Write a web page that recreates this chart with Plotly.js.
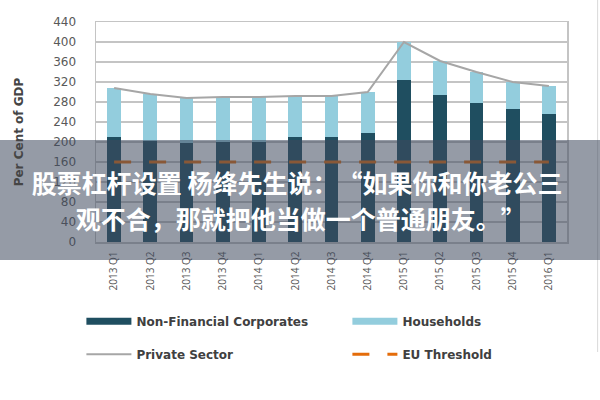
<!DOCTYPE html>
<html>
<head>
<meta charset="utf-8">
<script src="https://cdn.plot.ly/plotly-3.0.1.min.js"></script>
<style>
  html, body { margin: 0; padding: 0; background: #ffffff; }
  #chart { width: 600px; height: 400px; }
  #chart text { text-spacing-trim: space-all; }
</style>
</head>
<body>
<div id="chart"></div>
<script>
// ---- data ----
const quarters = ['2013 Q1','2013 Q2','2013 Q3','2013 Q4','2014 Q1','2014 Q2','2014 Q3','2014 Q4','2015 Q1','2015 Q2','2015 Q3','2015 Q4','2016 Q1'];
const nonFinancialCorporates = [210, 202, 198, 200, 200, 210, 210, 218, 324, 294, 278, 266, 256];
const households = [98, 94, 90, 90, 90, 82, 82, 82, 76, 68, 62, 54, 56];
const privateSector = [308, 296, 288, 290, 290, 292, 292, 300, 400, 362, 340, 320, 312];
const euThreshold = [160, 160, 160, 160, 160, 160, 160, 160, 160, 160, 160, 160, 160];
const yTicks = [0, 40, 80, 120, 160, 200, 240, 280, 320, 360, 400, 440];
const overlayLine1 = '股票杠杆设置 杨绛先生说：“如果你和你老公三';
const overlayLine2 = '观不合，那就把他当做一个普通朋友。”';

const darkTeal = '#1f4e60';
const lightBlue = '#93cddd';
const grayLine = '#a6a6a6';
const orange = '#e46c0a';
const baseFont = '"Open Sans", "Segoe UI", "DejaVu Sans", sans-serif';
const wideFont = '"DejaVu Sans", "Open Sans", sans-serif';
const cjkFont = '"Noto Sans CJK SC", sans-serif';

const traces = [
  { type: 'bar', x: quarters, y: nonFinancialCorporates, name: 'Non-Financial Corporates',
    marker: { color: darkTeal }, showlegend: false, legendgroup: 'nfc', hoverinfo: 'y' },
  { type: 'bar', x: quarters, y: households, name: 'Households',
    marker: { color: lightBlue }, showlegend: false, legendgroup: 'hh', hoverinfo: 'y' },
  { type: 'scatter', mode: 'lines', x: quarters, y: privateSector, name: 'Private Sector',
    line: { color: grayLine, width: 2 }, legend: 'legend2', legendwidth: 206 },
  { type: 'scatter', mode: 'lines', x: quarters, y: euThreshold, name: 'EU Threshold',
    line: { color: orange, width: 3, dash: '17px,18px' }, legend: 'legend2', legendwidth: 100 },
  // legend swatches for the bar series (wide flat bars like the original)
  { type: 'scatter', mode: 'lines', x: [null], y: [null], name: 'Non-Financial Corporates',
    line: { color: darkTeal, width: 7 }, legendgroup: 'nfc', hoverinfo: 'skip', legendwidth: 206 },
  { type: 'scatter', mode: 'lines', x: [null], y: [null], name: 'Households',
    line: { color: lightBlue, width: 7 }, legendgroup: 'hh', hoverinfo: 'skip', legendwidth: 100 }
];

const legendCommon = {
  orientation: 'h', xanchor: 'left', yanchor: 'middle',
  itemwidth: 45,
  bgcolor: 'rgba(0,0,0,0)', traceorder: 'normal',
  font: { family: wideFont, size: 12, color: '#404040', weight: 'bold' }
};

const layout = {
  width: 600, height: 400,
  margin: { l: 96, r: 33, t: 22, b: 158 },
  paper_bgcolor: '#ffffff', plot_bgcolor: '#ffffff',
  barmode: 'stack', bargap: 0.62,
  font: { family: baseFont, color: '#595959' },
  xaxis: {
    type: 'category', tickangle: -90,
    tickfont: { family: baseFont, size: 10, color: '#555555' },
    showline: true, linecolor: '#c4c4c4', linewidth: 1.5, mirror: true,
    showgrid: false, ticks: '', ticklabelstandoff: 4, fixedrange: true
  },
  yaxis: {
    range: [0, 440], tickvals: yTicks, ticktext: yTicks.map(String),
    tickfont: { family: wideFont, size: 12, color: '#595959' },
    showgrid: true, gridcolor: '#c4c4c4', gridwidth: 1.5,
    showline: true, linecolor: '#c4c4c4', linewidth: 1.5, mirror: true,
    zeroline: false, ticks: '', ticklabelstandoff: 16, fixedrange: true,
    title: { text: 'Per Cent of GDP', font: { family: wideFont, size: 12, color: '#454545', weight: 'bold' }, standoff: 27 }
  },
  legend: Object.assign({}, legendCommon, { x: -0.031, y: -0.36 }),
  legend2: Object.assign({}, legendCommon, { x: -0.031, y: -0.51 }),
  shapes: [
    { type: 'line', xref: 'paper', yref: 'paper', x0: 1.065, x1: 1.065, y0: 1.1, y1: -0.5,
      line: { color: '#d9d9d9', width: 1 }, layer: 'below' },
    { type: 'rect', xref: 'paper', yref: 'paper', x0: -0.3, x1: 1.3, y0: 0.4636, y1: -0.0818,
      fillcolor: 'rgba(62,72,92,0.55)', line: { width: 0 }, layer: 'above' }
  ],
  annotations: [
    { xref: 'paper', yref: 'paper', x: 0.426, y: 0.272, xanchor: 'center', yanchor: 'middle',
      text: overlayLine1, showarrow: false,
      font: { family: cjkFont, size: 25, color: '#ffffff', weight: 'bold' } },
    { xref: 'paper', yref: 'paper', x: 0.435, y: 0.107, xanchor: 'center', yanchor: 'middle',
      text: overlayLine2, showarrow: false,
      font: { family: cjkFont, size: 25, color: '#ffffff', weight: 'bold' } }
  ],
  showlegend: true
};

Plotly.newPlot('chart', traces, layout, { displayModeBar: false, staticPlot: true });
</script>
</body>
</html>
